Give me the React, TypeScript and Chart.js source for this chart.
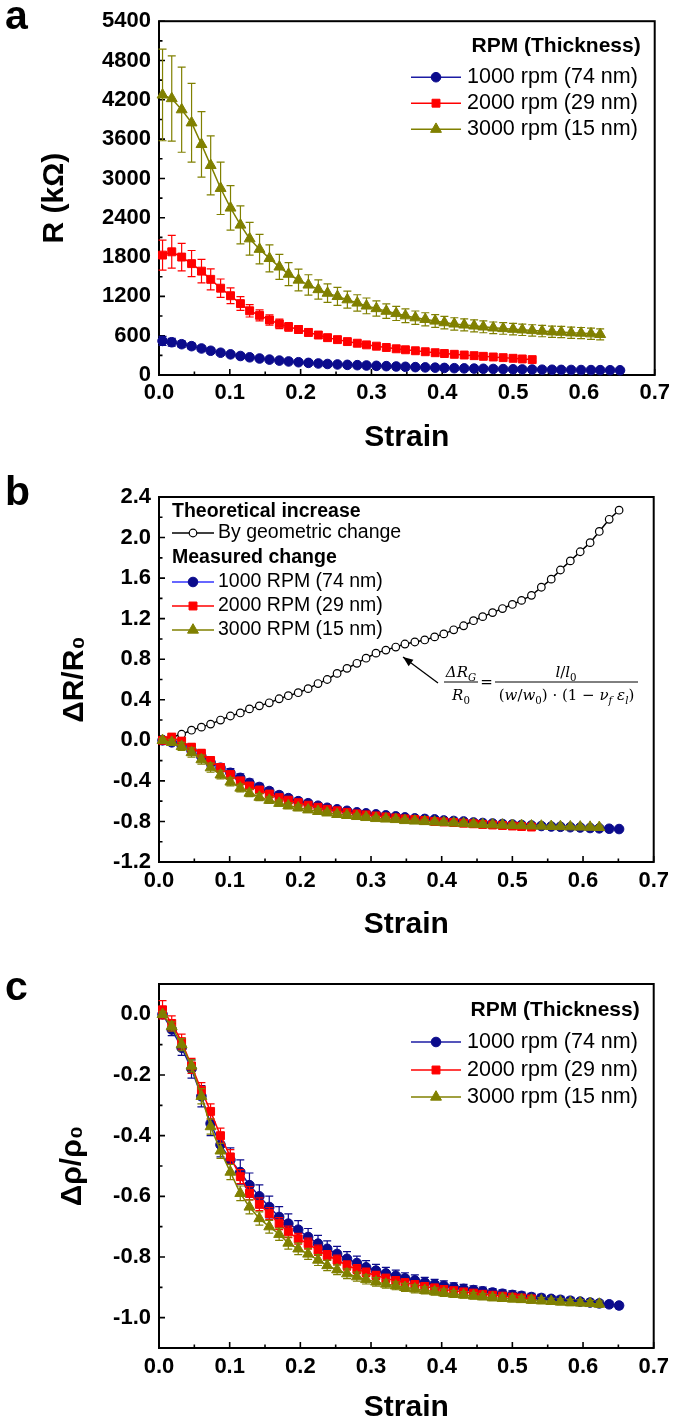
import React, { useEffect, useRef } from 'react';
import { Chart, registerables } from 'chart.js';

Chart.register(...registerables);

const SANS = '"Liberation Sans", Arial, Helvetica, sans-serif';
const SERIF = '"DejaVu Serif", "Liberation Serif", serif';

// ---------------- shared axis data ----------------
const STRAIN = [
  0.005, 0.018, 0.032, 0.046, 0.060, 0.073, 0.087, 0.101, 0.115, 0.128,
  0.142, 0.156, 0.170, 0.183, 0.197, 0.211, 0.225, 0.238, 0.252, 0.266,
  0.280, 0.293, 0.307, 0.321, 0.335, 0.348, 0.362, 0.376, 0.390, 0.403,
  0.417, 0.431, 0.445, 0.458, 0.472, 0.486, 0.500, 0.513, 0.527, 0.541,
  0.555, 0.568, 0.582, 0.596, 0.610, 0.623, 0.637, 0.651,
];
const X_TICKS = [0, 0.1, 0.2, 0.3, 0.4, 0.5, 0.6, 0.7];
const X_TITLE = 'Strain';

// ---------------- panel a: R (kOhm) ----------------
const A_Y_TICKS = [0, 600, 1200, 1800, 2400, 3000, 3600, 4200, 4800, 5400];
const A_Y_TITLE = 'R (kΩ)';
const RPM_HEADER = 'RPM (Thickness)';
const RPM_LABELS = ['1000 rpm (74 nm)', '2000 rpm (29 nm)', '3000 rpm (15 nm)'];
const A_1000 = [
  520, 500, 470, 440, 405, 370, 340, 315, 290, 270,
  252, 235, 220, 207, 195, 185, 176, 168, 161, 155,
  150, 145, 140, 135, 130, 125, 120, 116, 112, 108,
  104, 101, 98, 95, 92, 90, 87, 85, 83, 81,
  80, 78, 77, 76, 75, 74, 73, 72,
];
const A_1000_ERR = [
  70, 60, 50, 45, 40, 35, 30, 28, 25, 22,
  20, 18, 17, 16, 15, 14, 13, 12, 12, 11,
  11, 10, 10, 10, 9, 9, 9, 8, 8, 8,
  8, 7, 7, 7, 7, 7, 6, 6, 6, 6,
  6, 6, 6, 5, 5, 5, 5, 5,
];
const A_2000 = [
  1830, 1880, 1800, 1700, 1585, 1460, 1325, 1210, 1090, 980,
  910, 840, 780, 735, 695, 650, 610, 570, 540, 510,
  485, 460, 440, 420, 400, 385, 370, 355, 340, 328,
  316, 305, 295, 285, 275, 265, 255, 245, 235,
];
const A_2000_ERR = [
  230, 250, 210, 200, 180, 160, 140, 120, 105, 95,
  85, 78, 72, 66, 60, 56, 52, 48, 45, 42,
  40, 38, 36, 34, 32, 31, 30, 29, 28, 27,
  26, 25, 25, 24, 24, 23, 23, 22, 22,
];
const A_3000 = [
  4275, 4220, 4050, 3850, 3520, 3200, 2850, 2550, 2290, 2080,
  1920, 1780, 1650, 1540, 1450, 1375, 1305, 1250, 1200, 1150,
  1100, 1055, 1015, 975, 940, 905, 875, 850, 825, 800,
  780, 765, 750, 735, 720, 710, 700, 690, 680, 670,
  660, 655, 645, 640, 630, 620,
];
const A_3000_ERR = [
  700, 650, 650, 600, 500, 450, 400, 340, 290, 250,
  225, 205, 190, 175, 165, 155, 148, 142, 136, 130,
  125, 120, 116, 112, 108, 105, 102, 100, 98, 96,
  94, 92, 91, 90, 89, 88, 88, 87, 87, 86,
  86, 86, 85, 85, 85, 85,
];

// ---------------- panel b: dR/R0 ----------------
const B_Y_TICKS = [-1.2, -0.8, -0.4, 0, 0.4, 0.8, 1.2, 1.6, 2.0, 2.4];
const B_Y_TITLE = 'ΔR/R₀';
const B_HEAD_1 = 'Theoretical increase';
const B_HEAD_2 = 'Measured change';
const B_GEOM_LABEL = 'By geometric change';
const B_LABELS = ['1000 RPM (74 nm)', '2000 RPM (29 nm)', '3000 RPM (15 nm)'];
const B_GEOM = [
  0.01, 0.03, 0.06, 0.10, 0.13, 0.16, 0.20, 0.24, 0.27, 0.31,
  0.34, 0.37, 0.41, 0.44, 0.47, 0.51, 0.56, 0.60, 0.66, 0.71,
  0.76, 0.81, 0.86, 0.89, 0.92, 0.95, 0.97, 0.99, 1.02, 1.05,
  1.09, 1.13, 1.18, 1.22, 1.26, 1.30, 1.34, 1.38, 1.43, 1.51,
  1.59, 1.68, 1.77, 1.86, 1.95, 2.06, 2.18, 2.27,
];
const B_1000 = [
  0, -0.02, -0.05, -0.10, -0.16, -0.22, -0.27, -0.32, -0.37, -0.42,
  -0.46, -0.50, -0.54, -0.57, -0.60, -0.62, -0.645, -0.665, -0.68, -0.695,
  -0.71, -0.72, -0.73, -0.74, -0.75, -0.76, -0.77, -0.775, -0.78, -0.79,
  -0.795, -0.80, -0.81, -0.815, -0.82, -0.825, -0.83, -0.835, -0.84, -0.845,
  -0.85, -0.853, -0.857, -0.86, -0.865, -0.868, -0.872, -0.875,
];
const B_1000_ERR = [
  0.02, 0.02, 0.03, 0.035, 0.04, 0.04, 0.04, 0.04, 0.04, 0.038,
  0.036, 0.034, 0.032, 0.03, 0.03, 0.028, 0.027, 0.026, 0.025, 0.024,
  0.023, 0.022, 0.021, 0.02, 0.02, 0.019, 0.018, 0.018, 0.017, 0.017,
  0.016, 0.016, 0.015, 0.015, 0.015, 0.014, 0.014, 0.014, 0.013, 0.013,
  0.013, 0.012, 0.012, 0.012, 0.012, 0.011, 0.011, 0.011,
];
const B_2000 = [
  0.0, 0.03, -0.01, -0.07, -0.13, -0.20, -0.27, -0.34, -0.40, -0.45,
  -0.49, -0.53, -0.565, -0.59, -0.615, -0.64, -0.66, -0.68, -0.695, -0.71,
  -0.725, -0.735, -0.745, -0.755, -0.765, -0.775, -0.78, -0.79, -0.80, -0.805,
  -0.81, -0.817, -0.823, -0.83, -0.835, -0.84, -0.845, -0.85, -0.855,
];
const B_2000_ERR = [
  0.03, 0.04, 0.04, 0.04, 0.04, 0.04, 0.04, 0.038, 0.036, 0.034,
  0.032, 0.03, 0.028, 0.027, 0.026, 0.025, 0.024, 0.023, 0.022, 0.021,
  0.02, 0.02, 0.019, 0.018, 0.018, 0.017, 0.017, 0.016, 0.016, 0.015,
  0.015, 0.015, 0.014, 0.014, 0.014, 0.013, 0.013, 0.013, 0.012,
];
const B_3000 = [
  0.0, -0.02, -0.06, -0.12, -0.19, -0.27, -0.34, -0.41, -0.47, -0.52,
  -0.56, -0.59, -0.62, -0.645, -0.665, -0.685, -0.70, -0.715, -0.73, -0.74,
  -0.75, -0.76, -0.77, -0.775, -0.78, -0.79, -0.795, -0.80, -0.805, -0.81,
  -0.815, -0.82, -0.825, -0.83, -0.832, -0.835, -0.838, -0.84, -0.843, -0.845,
  -0.848, -0.85, -0.852, -0.854, -0.856, -0.858,
];
const B_3000_ERR = [
  0.02, 0.03, 0.04, 0.045, 0.045, 0.045, 0.04, 0.04, 0.038, 0.036,
  0.034, 0.032, 0.03, 0.029, 0.028, 0.027, 0.026, 0.025, 0.024, 0.023,
  0.022, 0.021, 0.02, 0.02, 0.019, 0.018, 0.018, 0.017, 0.017, 0.016,
  0.016, 0.015, 0.015, 0.015, 0.014, 0.014, 0.014, 0.013, 0.013, 0.013,
  0.012, 0.012, 0.012, 0.012, 0.011, 0.011,
];

// ---------------- panel c: d rho / rho0 ----------------
const C_Y_TICKS = [-1.0, -0.8, -0.6, -0.4, -0.2, 0];
const C_Y_TITLE = 'Δρ/ρ₀';
const C_1000 = [
  0.0, -0.05, -0.11, -0.18, -0.27, -0.36, -0.43, -0.48, -0.52, -0.563,
  -0.60, -0.635, -0.668, -0.69, -0.71, -0.734, -0.756, -0.773, -0.79, -0.806,
  -0.82, -0.834, -0.845, -0.854, -0.862, -0.87, -0.877, -0.884, -0.89, -0.895,
  -0.90, -0.905, -0.909, -0.913, -0.917, -0.921, -0.925, -0.928, -0.932, -0.935,
  -0.938, -0.941, -0.944, -0.947, -0.95, -0.953, -0.956, -0.96,
];
const C_1000_ERR = [
  0.01, 0.02, 0.025, 0.03, 0.035, 0.04, 0.04, 0.04, 0.04, 0.04,
  0.038, 0.036, 0.034, 0.032, 0.03, 0.028, 0.027, 0.026, 0.025, 0.024,
  0.023, 0.022, 0.021, 0.02, 0.019, 0.018, 0.018, 0.017, 0.016, 0.016,
  0.015, 0.015, 0.014, 0.014, 0.013, 0.013, 0.013, 0.012, 0.012, 0.012,
  0.011, 0.011, 0.011, 0.01, 0.01, 0.01, 0.01, 0.01,
];
const C_2000 = [
  0.015, -0.03, -0.09, -0.17, -0.25, -0.32, -0.40, -0.47, -0.535, -0.59,
  -0.626, -0.657, -0.69, -0.717, -0.74, -0.756, -0.778, -0.795, -0.81, -0.828,
  -0.84, -0.851, -0.861, -0.87, -0.878, -0.885, -0.891, -0.897, -0.902, -0.907,
  -0.911, -0.915, -0.919, -0.923, -0.926, -0.929, -0.932, -0.935, -0.938,
];
const C_2000_ERR = [
  0.03, 0.025, 0.025, 0.025, 0.025, 0.025, 0.025, 0.024, 0.023, 0.022,
  0.021, 0.02, 0.02, 0.019, 0.018, 0.018, 0.017, 0.016, 0.016, 0.015,
  0.015, 0.014, 0.014, 0.013, 0.013, 0.013, 0.012, 0.012, 0.012, 0.011,
  0.011, 0.011, 0.01, 0.01, 0.01, 0.01, 0.01, 0.01, 0.01,
];
const C_3000 = [
  0.0, -0.04, -0.10, -0.17, -0.27, -0.37, -0.45, -0.52, -0.59, -0.635,
  -0.673, -0.70, -0.725, -0.754, -0.773, -0.79, -0.81, -0.828, -0.842, -0.855,
  -0.865, -0.874, -0.882, -0.889, -0.895, -0.90, -0.905, -0.91, -0.914, -0.918,
  -0.922, -0.925, -0.928, -0.931, -0.934, -0.936, -0.938, -0.94, -0.942, -0.944,
  -0.946, -0.948, -0.95, -0.951, -0.953, -0.955,
];
const C_3000_ERR = [
  0.01, 0.015, 0.02, 0.02, 0.025, 0.025, 0.025, 0.025, 0.024, 0.023,
  0.022, 0.021, 0.02, 0.02, 0.019, 0.018, 0.018, 0.017, 0.016, 0.016,
  0.015, 0.015, 0.014, 0.014, 0.013, 0.013, 0.013, 0.012, 0.012, 0.012,
  0.011, 0.011, 0.011, 0.01, 0.01, 0.01, 0.01, 0.01, 0.01, 0.01,
  0.01, 0.01, 0.01, 0.01, 0.01, 0.01,
];

// ---------------- styles ----------------
const NAVY = '#0b0b8c';
const NAVY_LINE = '#1c1ca4';
const BRIGHT_BLUE = '#3434ff';
const RED = '#ff0000';
const OLIVE = '#808000';

type Style = {
  line: string; fill: string; stroke: string; style: string; r: number; order: number; bw?: number; err?: string;
};

function series(label: string, ys: number[], errs: number[] | null, o: Style) {
  return {
    label,
    data: ys.map((y, i) => ({ x: STRAIN[i], y })),
    errors: errs,
    errorColor: o.err ?? o.stroke,
    borderColor: o.line,
    backgroundColor: o.fill,
    borderWidth: 1.5,
    pointStyle: o.style,
    pointRadius: o.r,
    pointHoverRadius: o.r,
    pointBackgroundColor: o.fill,
    pointBorderColor: o.stroke,
    pointBorderWidth: o.bw ?? 1,
    order: o.order,
    clip: 14,
    tension: 0,
    fill: false,
  };
}

const blueStyle = (line: string): Style => ({ line, fill: NAVY, stroke: NAVY, style: 'circle', r: 4.8, order: 2 });
const redStyle: Style = { line: RED, fill: RED, stroke: RED, style: 'rect', r: 5.6, order: 1 };
const oliveStyle: Style = { line: OLIVE, fill: OLIVE, stroke: OLIVE, style: 'triangle', r: 6.3, order: 0 };
const geomStyle: Style = { line: '#000', fill: '#fff', stroke: '#000', style: 'circle', r: 3.8, order: 3, bw: 1.2 };

// ---------------- drawing helpers ----------------
function drawMarker(ctx: CanvasRenderingContext2D, style: string, x: number, y: number, r: number, fill: string, stroke: string, bw: number) {
  ctx.beginPath();
  if (style === 'rect') {
    const s = r * Math.SQRT1_2;
    ctx.rect(x - s, y - s, 2 * s, 2 * s);
  } else if (style === 'triangle') {
    ctx.moveTo(x, y - r);
    ctx.lineTo(x + r * 0.866, y + r * 0.5);
    ctx.lineTo(x - r * 0.866, y + r * 0.5);
    ctx.closePath();
  } else {
    ctx.arc(x, y, r, 0, Math.PI * 2);
  }
  ctx.fillStyle = fill;
  ctx.fill();
  ctx.lineWidth = bw;
  ctx.strokeStyle = stroke;
  ctx.stroke();
}

function legendEntry(ctx: CanvasRenderingContext2D, d: any, x0: number, x1: number, tx: number, y: number, text: string, font: string) {
  ctx.beginPath();
  ctx.moveTo(x0, y);
  ctx.lineTo(x1, y);
  ctx.strokeStyle = d.borderColor;
  ctx.lineWidth = 1.6;
  ctx.stroke();
  drawMarker(ctx, d.pointStyle, (x0 + x1) / 2, y, d.pointRadius, d.pointBackgroundColor, d.pointBorderColor, d.pointBorderWidth);
  ctx.fillStyle = '#000';
  ctx.font = font;
  ctx.textAlign = 'left';
  ctx.textBaseline = 'middle';
  ctx.fillText(text, tx, y);
}

const errorBars = {
  id: 'errorBars',
  beforeDatasetDraw(chart: any, args: any) {
    const d = chart.data.datasets[args.index];
    if (!d.errors) return;
    const { ctx } = chart;
    const xs = chart.scales.x;
    const ys = chart.scales.y;
    ctx.save();
    ctx.strokeStyle = d.errorColor;
    ctx.lineWidth = 1.2;
    ctx.beginPath();
    d.data.forEach((p: any, i: number) => {
      const e = d.errors[i];
      if (e == null) return;
      const px = xs.getPixelForValue(p.x);
      const t = ys.getPixelForValue(p.y + e);
      const b = ys.getPixelForValue(p.y - e);
      ctx.moveTo(px, t); ctx.lineTo(px, b);
      ctx.moveTo(px - 4, t); ctx.lineTo(px + 4, t);
      ctx.moveTo(px - 4, b); ctx.lineTo(px + 4, b);
    });
    ctx.stroke();
    ctx.restore();
  },
};

const frame = {
  id: 'frame',
  beforeDatasetsDraw(chart: any) {
    const { ctx, chartArea: ca } = chart;
    const xs = chart.scales.x;
    const ys = chart.scales.y;
    const xt = xs.ticks.map((t: any) => t.value);
    const yt = ys.ticks.map((t: any) => t.value);
    ctx.save();
    ctx.strokeStyle = '#000';
    ctx.lineWidth = 1.6;
    ctx.beginPath();
    xt.forEach((v: number, i: number) => {
      const p = xs.getPixelForValue(v);
      ctx.moveTo(p, ca.bottom); ctx.lineTo(p, ca.bottom - 6);
      if (i < xt.length - 1) {
        const m = xs.getPixelForValue((v + xt[i + 1]) / 2);
        ctx.moveTo(m, ca.bottom); ctx.lineTo(m, ca.bottom - 3.5);
      }
    });
    yt.forEach((v: number, i: number) => {
      const p = ys.getPixelForValue(v);
      ctx.moveTo(ca.left, p); ctx.lineTo(ca.left + 6, p);
      if (i < yt.length - 1) {
        const m = ys.getPixelForValue((v + yt[i + 1]) / 2);
        ctx.moveTo(ca.left, m); ctx.lineTo(ca.left + 3.5, m);
      }
    });
    ctx.stroke();
    ctx.lineWidth = 2;
    ctx.strokeRect(ca.left, ca.top, ca.right - ca.left, ca.bottom - ca.top);
    ctx.restore();
  },
};

function panelLetter(letter: string, x: number, y: number) {
  return {
    id: 'panelLetter',
    afterDraw(chart: any) {
      const { ctx } = chart;
      ctx.save();
      ctx.fillStyle = '#000';
      ctx.font = `bold 41px ${SANS}`;
      ctx.textAlign = 'left';
      ctx.textBaseline = 'alphabetic';
      ctx.fillText(letter, x, y);
      ctx.restore();
    },
  };
}

function rpmLegend(pos: { header: number; rows: number[] }) {
  return {
    id: 'rpmLegend',
    afterDatasetsDraw(chart: any) {
      const { ctx, chartArea: ca } = chart;
      ctx.save();
      ctx.fillStyle = '#000';
      ctx.textBaseline = 'middle';
      ctx.textAlign = 'right';
      ctx.font = `bold 21px ${SANS}`;
      ctx.fillText(RPM_HEADER, ca.right - 14, ca.top + pos.header);
      [0, 1, 2].forEach((di, k) => {
        const d = chart.data.datasets[di];
        legendEntry(ctx, d, ca.left + 252, ca.left + 302, ca.left + 308, ca.top + pos.rows[k], d.label, `21.5px ${SANS}`);
      });
      ctx.restore();
    },
  };
}

const bLegend = {
  id: 'bLegend',
  afterDatasetsDraw(chart: any) {
    const { ctx, chartArea: ca } = chart;
    const ds = chart.data.datasets;
    ctx.save();
    ctx.fillStyle = '#000';
    ctx.textBaseline = 'middle';
    ctx.textAlign = 'left';
    ctx.font = `bold 19.5px ${SANS}`;
    ctx.fillText(B_HEAD_1, ca.left + 13, ca.top + 15);
    legendEntry(ctx, ds[3], ca.left + 13, ca.left + 55, ca.left + 59, ca.top + 36, ds[3].label, `19.5px ${SANS}`);
    ctx.font = `bold 19.5px ${SANS}`;
    ctx.fillStyle = '#000';
    ctx.fillText(B_HEAD_2, ca.left + 13, ca.top + 61);
    [0, 1, 2].forEach((di, k) => {
      legendEntry(ctx, ds[di], ca.left + 13, ca.left + 55, ca.left + 59, ca.top + 85 + k * 24, ds[di].label, `19.5px ${SANS}`);
    });
    ctx.restore();
  },
};

type Seg = [string, string];
function segFont(st: string, size: number) {
  const sub = st.includes('s');
  const it = st.includes('i');
  return { font: `${it ? 'italic ' : ''}${sub ? size * 0.68 : size}px ${SERIF}`, sub };
}
function richWidth(ctx: CanvasRenderingContext2D, segs: Seg[], size: number) {
  let w = 0;
  segs.forEach(([t, st]) => { ctx.font = segFont(st, size).font; w += ctx.measureText(t).width; });
  return w;
}
function drawRich(ctx: CanvasRenderingContext2D, segs: Seg[], cx: number, y: number, size: number) {
  let x = cx - richWidth(ctx, segs, size) / 2;
  segs.forEach(([t, st]) => {
    const f = segFont(st, size);
    ctx.font = f.font;
    ctx.fillText(t, x, f.sub ? y + size * 0.25 : y);
    x += ctx.measureText(t).width;
  });
}

const FORMULA_NUM1: Seg[] = [['ΔR', 'i'], ['G', 'si']];
const FORMULA_DEN1: Seg[] = [['R', 'i'], ['0', 's']];
const FORMULA_NUM2: Seg[] = [['l', 'i'], ['/', ''], ['l', 'i'], ['0', 's']];
const FORMULA_DEN2: Seg[] = [
  ['(', ''], ['w', 'i'], ['/', ''], ['w', 'i'], ['0', 's'], [')', ''], [' · ', ''],
  ['(1 − ', ''], ['ν', 'i'], ['f', 'si'], [' ε', 'i'], ['l', 'si'], [')', ''],
];

const formula = {
  id: 'formula',
  afterDatasetsDraw(chart: any) {
    const { ctx, chartArea: ca } = chart;
    const L = ca.left;
    const T = ca.top;
    const size = 15;
    ctx.save();
    ctx.fillStyle = '#000';
    ctx.strokeStyle = '#000';
    ctx.textAlign = 'left';
    ctx.textBaseline = 'alphabetic';
    drawRich(ctx, FORMULA_NUM1, L + 302, T + 180, size);
    drawRich(ctx, FORMULA_DEN1, L + 302, T + 203, size);
    ctx.lineWidth = 1;
    ctx.beginPath();
    ctx.moveTo(L + 285, T + 185); ctx.lineTo(L + 319, T + 185);
    ctx.moveTo(L + 336, T + 185); ctx.lineTo(L + 479, T + 185);
    ctx.stroke();
    ctx.font = `${size}px ${SERIF}`;
    ctx.textAlign = 'center';
    ctx.fillText('=', L + 327.5, T + 190);
    ctx.textAlign = 'left';
    drawRich(ctx, FORMULA_NUM2, L + 407, T + 180, size);
    drawRich(ctx, FORMULA_DEN2, L + 407.5, T + 203, size);
    const x0 = L + 279, y0 = T + 186, x1 = L + 244, y1 = T + 160;
    ctx.lineWidth = 1.3;
    ctx.beginPath();
    ctx.moveTo(x0, y0); ctx.lineTo(x1, y1);
    ctx.stroke();
    const a = Math.atan2(y1 - y0, x1 - x0);
    ctx.beginPath();
    ctx.moveTo(x1, y1);
    ctx.lineTo(x1 - 10 * Math.cos(a) + 4 * Math.sin(a), y1 - 10 * Math.sin(a) - 4 * Math.cos(a));
    ctx.lineTo(x1 - 10 * Math.cos(a) - 4 * Math.sin(a), y1 - 10 * Math.sin(a) + 4 * Math.cos(a));
    ctx.closePath();
    ctx.fill();
    ctx.restore();
  },
};

// ---------------- chart config ----------------
const fmt1 = (v: number) => (Math.abs(v) < 1e-9 ? 0 : v).toFixed(1);

function makeOptions(p: {
  padTop: number; xHeight: number; xTickPad: number; xTitlePadBottom: number;
  yMin: number; yMax: number; yTicks: number[]; yFmt: (v: number) => string; yTitle: string; yTitlePad: number;
}) {
  return {
    responsive: false,
    maintainAspectRatio: false,
    animation: false,
    devicePixelRatio: 1,
    events: [],
    layout: { padding: { top: p.padTop, right: 20, left: 0, bottom: 0 } },
    plugins: { legend: { display: false }, tooltip: { enabled: false }, title: { display: false } },
    scales: {
      x: {
        type: 'linear',
        min: 0,
        max: 0.7,
        afterBuildTicks: (ax: any) => { ax.ticks = X_TICKS.map((v) => ({ value: v })); },
        afterFit: (ax: any) => { ax.height = p.xHeight; },
        grid: { display: false, drawTicks: false },
        border: { display: false },
        ticks: {
          color: '#000', padding: p.xTickPad, maxRotation: 0, autoSkip: false,
          font: { family: SANS, size: 22, weight: 'bold' },
          callback: (v: any) => fmt1(Number(v)),
        },
        title: {
          display: true, text: X_TITLE, color: '#000',
          font: { family: SANS, size: 30, weight: 'bold' },
          padding: { top: 0, bottom: p.xTitlePadBottom },
        },
      },
      y: {
        type: 'linear',
        min: p.yMin,
        max: p.yMax,
        afterBuildTicks: (ax: any) => { ax.ticks = p.yTicks.map((v) => ({ value: v })); },
        afterFit: (ax: any) => { ax.width = 159; },
        grid: { display: false, drawTicks: false },
        border: { display: false },
        ticks: {
          color: '#000', padding: 8, autoSkip: false,
          font: { family: SANS, size: 22, weight: 'bold' },
          callback: (v: any) => p.yFmt(Number(v)),
        },
        title: {
          display: true, text: p.yTitle, color: '#000',
          font: { family: SANS, size: 30, weight: 'bold' },
          padding: { top: p.yTitlePad, bottom: 0 },
        },
      },
    },
  };
}

function configA() {
  return {
    type: 'line',
    data: {
      datasets: [
        series(RPM_LABELS[0], A_1000, A_1000_ERR, blueStyle(NAVY_LINE)),
        series(RPM_LABELS[1], A_2000, A_2000_ERR, redStyle),
        series(RPM_LABELS[2], A_3000, A_3000_ERR, oliveStyle),
      ],
    },
    options: makeOptions({
      padTop: 15, xHeight: 95, xTickPad: 5, xTitlePadBottom: 14,
      yMin: 0, yMax: 5400, yTicks: A_Y_TICKS, yFmt: (v) => String(Math.round(v)), yTitle: A_Y_TITLE, yTitlePad: 37,
    }),
    plugins: [frame, errorBars, rpmLegend({ header: 25, rows: [56, 82, 108] }), panelLetter('a', 5, 29)],
  };
}

function configB() {
  return {
    type: 'line',
    data: {
      datasets: [
        series(B_LABELS[0], B_1000, B_1000_ERR, blueStyle(BRIGHT_BLUE)),
        series(B_LABELS[1], B_2000, B_2000_ERR, redStyle),
        series(B_LABELS[2], B_3000, B_3000_ERR, oliveStyle),
        series(B_GEOM_LABEL, B_GEOM, null, geomStyle),
      ],
    },
    options: makeOptions({
      padTop: 27, xHeight: 83, xTickPad: 6, xTitlePadBottom: 2,
      yMin: -1.2, yMax: 2.4, yTicks: B_Y_TICKS, yFmt: fmt1, yTitle: B_Y_TITLE, yTitlePad: 57,
    }),
    plugins: [frame, errorBars, bLegend, formula, panelLetter('b', 5, 35)],
  };
}

function configC() {
  return {
    type: 'line',
    data: {
      datasets: [
        series(RPM_LABELS[0], C_1000, C_1000_ERR, blueStyle(NAVY_LINE)),
        series(RPM_LABELS[1], C_2000, C_2000_ERR, redStyle),
        series(RPM_LABELS[2], C_3000, C_3000_ERR, oliveStyle),
      ],
    },
    options: makeOptions({
      padTop: 39, xHeight: 80, xTickPad: 6, xTitlePadBottom: 2,
      yMin: -1.1, yMax: 0.1, yTicks: C_Y_TICKS, yFmt: fmt1, yTitle: C_Y_TITLE, yTitlePad: 55,
    }),
    plugins: [frame, errorBars, rpmLegend({ header: 26, rows: [58, 86, 113] }), panelLetter('c', 5, 55)],
  };
}

function ChartCanvas({ top, height, build }: { top: number; height: number; build: () => any }) {
  const ref = useRef<HTMLCanvasElement>(null);
  useEffect(() => {
    const chart = new Chart(ref.current as HTMLCanvasElement, build());
    return () => chart.destroy();
  }, []);
  return (
    <canvas
      ref={ref}
      width={675}
      height={height}
      style={{ position: 'absolute', left: 0, top, width: 675, height, display: 'block' }}
    />
  );
}

export default function App() {
  return (
    <div style={{ position: 'absolute', left: 0, top: 0, width: 675, height: 1428, background: '#fff', overflow: 'hidden' }}>
      <ChartCanvas top={0} height={470} build={configA} />
      <ChartCanvas top={470} height={475} build={configB} />
      <ChartCanvas top={945} height={483} build={configC} />
    </div>
  );
}
